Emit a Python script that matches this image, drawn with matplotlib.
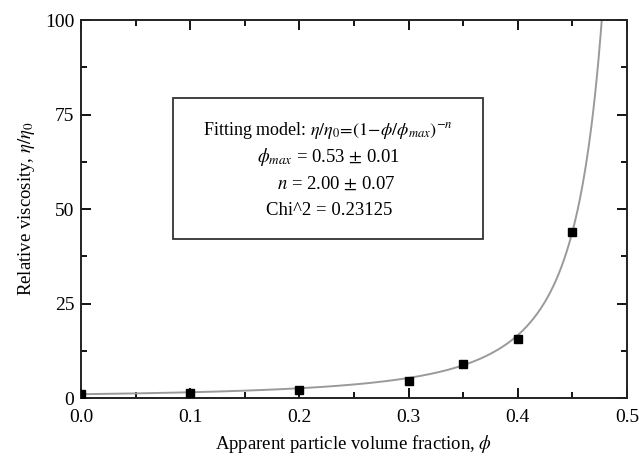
import numpy as np
import matplotlib
matplotlib.use('Agg')
import matplotlib.pyplot as plt
from matplotlib.patches import Rectangle
from matplotlib.ticker import MultipleLocator

plt.rcParams['font.family'] = ['Liberation Serif', 'DejaVu Serif']
plt.rcParams['mathtext.fontset'] = 'stix'

# measured points
phi = [0.0, 0.1, 0.2, 0.3, 0.35, 0.4, 0.45]
visc = [1.0, 1.3, 2.2, 4.5, 9.0, 15.6, 43.9]

# fit parameters
phi_max = 0.53
n_exp = 2.0

fig = plt.figure(figsize=(6.39, 4.58), dpi=100)
ax = fig.add_axes([0.127, 0.131, 0.854, 0.825])

xf = np.linspace(0.0, 0.4999, 600)
yf = (1 - xf / phi_max) ** (-n_exp)
ax.plot(xf, yf, color='#9a9a9a', lw=1.4, zorder=2)
ax.plot(phi, visc, 's', color='black', ms=6, zorder=3)

ax.set_xlim(0, 0.5)
ax.set_ylim(0, 100)
ax.xaxis.set_major_locator(MultipleLocator(0.1))
ax.xaxis.set_minor_locator(MultipleLocator(0.05))
ax.yaxis.set_major_locator(MultipleLocator(25))
ax.yaxis.set_minor_locator(MultipleLocator(12.5))
ax.xaxis.set_major_formatter(plt.FuncFormatter(lambda v, p: '%.1f' % v))
ax.tick_params(which='both', direction='in', top=True, right=True,
               labeltop=False, labelright=False, width=1.3, labelsize=14)
ax.tick_params(which='major', length=7, pad=5)
ax.tick_params(axis='x', which='major', pad=8)
ax.tick_params(which='minor', length=4)
for s in ax.spines.values():
    s.set_linewidth(1.4)
    s.set_color('#222222')

ax.set_xlabel(r'Apparent particle volume fraction, $\phi$', fontsize=13.5, labelpad=5)
ax.set_ylabel(r'Relative viscosity, $\eta/\eta_0$', fontsize=13.5, labelpad=6)

# annotation box
ax.add_patch(Rectangle((0.0844, 42.0), 0.2836, 37.4, fill=False,
                       edgecolor='#333333', lw=1.3, zorder=4))
ax.text(0.226, 70.7, r'Fitting model: $\eta/\eta_0\!=\!(\mathit{1}\!-\!\phi/\phi_{max})^{-n}$',
        ha='center', va='center', fontsize=13)
ax.text(0.2265, 63.8, r'$\phi_{max}$ = 0.53 $\pm$ 0.01', ha='center', va='center', fontsize=13.5)
ax.text(0.2335, 56.6, r'$n$ = 2.00 $\pm$ 0.07', ha='center', va='center', fontsize=13.5)
ax.text(0.2275, 49.7, 'Chi^2 = 0.23125', ha='center', va='center', fontsize=13.5)

fig.savefig('out.png', dpi=100)
